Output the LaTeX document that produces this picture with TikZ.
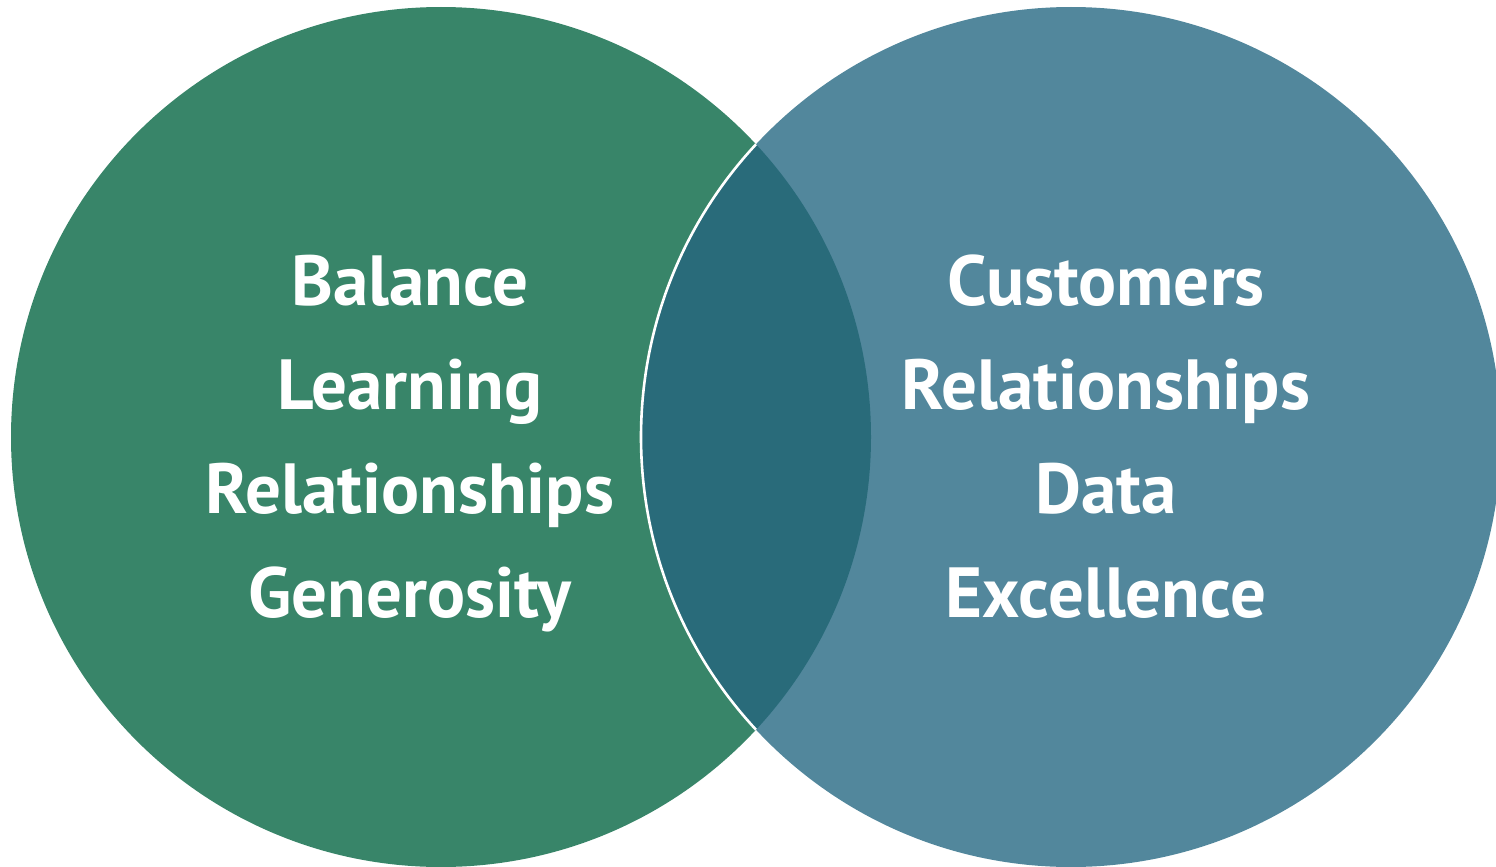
\documentclass[tikz,border=0pt]{standalone}
\usepackage{fontspec}
\setmainfont{PT Sans}
\begin{document}
\definecolor{leafgreen}{RGB}{56,133,105}
\definecolor{steelblue}{RGB}{82,135,156}
\definecolor{deepteal}{RGB}{41,107,122}
\begin{tikzpicture}[x=1pt,y=-1pt,
  word/.style={text=white,font=\fontsize{71}{71}\selectfont\bfseries,anchor=base,inner sep=0pt}]
\useasboundingbox (0,0) rectangle (1496,867);
% the two sets
\fill[leafgreen] (441,437) circle[radius=430];
\fill[steelblue] (1071,437) circle[radius=430];
% overlap of the sets
\begin{scope}
  \clip (441,437) circle[radius=430];
  \fill[deepteal] (1071,437) circle[radius=430];
  \draw[white,line width=2.6pt] (1071,437) circle[radius=430];
\end{scope}
% left set
\node[word] (l1) at (410,305) {Balance};
\node[word] (l2) at (410,409) {Learning};
\node[word] (l3) at (410,513) {Relationships};
\node[word] (l4) at (410,617) {Generosity};
% right set
\node[word] (r1) at (1106,305) {Customers};
\node[word] (r2) at (1106,409) {Relationships};
\node[word] (r3) at (1106,513) {Data};
\node[word] (r4) at (1106,617) {Excellence};
\end{tikzpicture}
\end{document}
